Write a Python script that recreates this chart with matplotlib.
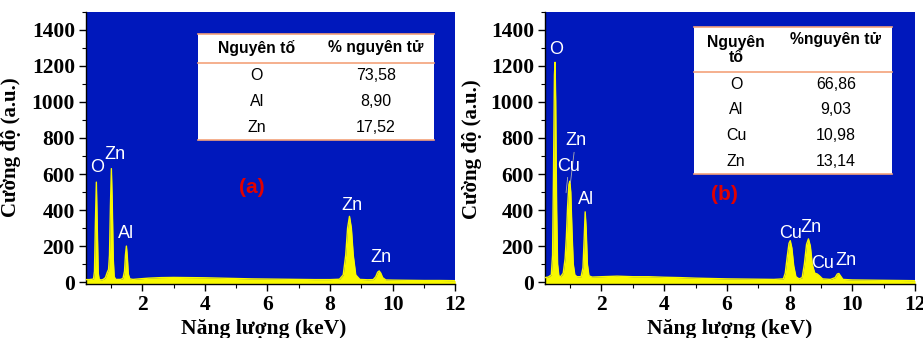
import matplotlib
matplotlib.use("Agg")
import matplotlib.pyplot as plt
from matplotlib.ticker import MultipleLocator
from matplotlib.patches import Rectangle

# ---------------- data ----------------
energy_a = [0.20, 0.30, 0.40, 0.44, 0.47, 0.50, 0.53, 0.56, 0.59, 0.62, 0.68, 0.75, 0.82, 0.88,
            0.92, 0.95, 0.98, 1.01, 1.04, 1.07, 1.10, 1.15, 1.22, 1.30, 1.38, 1.43, 1.46, 1.49,
            1.52, 1.55, 1.60, 1.70, 1.90, 2.20, 2.60, 3.00, 3.50, 4.00, 4.50, 5.00, 5.50, 6.00,
            6.50, 7.00, 7.50, 8.00, 8.30, 8.42, 8.50, 8.56, 8.62, 8.68, 8.74, 8.82, 8.95, 9.20,
            9.38, 9.46, 9.52, 9.57, 9.62, 9.68, 9.78, 10.0, 10.5, 11.0, 11.5, 12.0]
counts_a = [14, 14, 16, 18, 60, 330, 555, 300, 50, 15, 12, 15, 25, 55,
            70, 150, 420, 630, 420, 130, 30, 15, 15, 15, 20, 60, 150, 200,
            140, 45, 18, 15, 18, 22, 25, 26, 25, 24, 22, 20, 18, 17,
            16, 15, 14, 14, 16, 40, 150, 300, 365, 300, 150, 40, 15, 13,
            14, 30, 55, 62, 50, 25, 12, 11, 10, 9, 9, 8]

energy_b = [0.20, 0.30, 0.40, 0.44, 0.47, 0.50, 0.52, 0.54, 0.57, 0.60, 0.64, 0.70, 0.78, 0.84,
            0.88, 0.92, 0.96, 0.99, 1.02, 1.06, 1.10, 1.15, 1.22, 1.35, 1.41, 1.45, 1.48, 1.51,
            1.55, 1.60, 1.70, 2.00, 2.50, 3.00, 3.50, 4.00, 4.50, 5.00, 5.50, 6.00, 6.50, 7.00,
            7.50, 7.80, 7.86, 7.93, 7.98, 8.02, 8.07, 8.13, 8.20, 8.30, 8.40, 8.47, 8.54, 8.60,
            8.66, 8.72, 8.80, 8.88, 8.95, 9.05, 9.30, 9.45, 9.52, 9.57, 9.62, 9.70, 10.0, 10.5,
            11.0, 11.5, 12.0]
counts_b = [25, 28, 40, 150, 600, 1150, 1220, 1000, 400, 100, 35, 30, 50, 130,
            250, 420, 540, 560, 500, 280, 100, 40, 30, 30, 80, 250, 390, 300,
            100, 35, 28, 30, 33, 30, 30, 27, 25, 22, 20, 18, 17, 16,
            15, 18, 50, 150, 215, 230, 190, 90, 30, 18, 25, 100, 210, 240,
            200, 100, 50, 45, 35, 18, 15, 25, 45, 48, 35, 15, 12, 11,
            10, 9, 8]

# peak labels: text, label energy, label height, (leader target energy, height) or None
labels_a = [("O", 0.57, 590, None), ("Zn", 1.14, 660, None), ("Al", 1.49, 225, None),
            ("Zn", 8.70, 378, None), ("Zn", 9.62, 92, None)]
labels_b = [("O", 0.55, 1245, None), ("Zn", 1.17, 736, (1.01, 551)), ("Cu", 0.96, 597, (0.87, 496)),
            ("Al", 1.52, 409, None), ("Cu", 8.02, 225, None), ("Zn", 8.67, 257, None),
            ("Cu", 9.04, 56, None), ("Zn", 9.80, 75, None)]

table_a_header = ["Nguyên tố", "% nguyên tử"]
table_a_elements = ["O", "Al", "Zn"]
table_a_values = ["73,58", "8,90", "17,52"]

table_b_header = ["Nguyên\ntố", "%nguyên tử"]
table_b_elements = ["O", "Al", "Cu", "Zn"]
table_b_values = ["66,86", "9,03", "10,98", "13,14"]

# ---------------- style ----------------
BLUE = "#0018BC"
YELLOW = "#F8F800"
LINE = "#F4A27A"
SERIF = "Liberation Serif"
SANS = "Liberation Sans"

fig = plt.figure(figsize=(9.23, 3.38), dpi=100)
ax_a = fig.add_axes([0.0932, 0.160, 0.400, 0.805])
ax_b = fig.add_axes([0.5905, 0.160, 0.4009, 0.805])


def style_axes(ax):
    ax.set_facecolor(BLUE)
    ax.set_xlim(0.2, 12)
    ax.set_ylim(-10, 1500)
    ax.xaxis.set_major_locator(MultipleLocator(2))
    ax.xaxis.set_minor_locator(MultipleLocator(1))
    ax.yaxis.set_major_locator(MultipleLocator(200))
    ax.yaxis.set_minor_locator(MultipleLocator(100))
    for s in ("top", "right"):
        ax.spines[s].set_visible(False)
    for s in ("left", "bottom"):
        ax.spines[s].set_linewidth(1.0)
    ax.tick_params(which="major", direction="out", length=5, width=1, pad=3)
    ax.tick_params(which="minor", direction="out", length=3, width=0.8)
    for lab in ax.get_xticklabels() + ax.get_yticklabels():
        lab.set_fontfamily(SERIF)
        lab.set_fontweight("bold")
        lab.set_fontsize(15.5)
    ax.set_xlabel("Năng lượng (keV)", fontfamily=SERIF, fontweight="bold", fontsize=15.5)
    ax.set_ylabel("Cường độ (a.u.)", fontfamily=SERIF, fontweight="bold", fontsize=15)


def draw_spectrum(ax, e, c, labels):
    ax.fill_between(e, c, -10, color=YELLOW, lw=0, zorder=2)
    ax.plot(e, c, color=YELLOW, lw=1.0, zorder=3)
    for txt, x, y, tgt in labels:
        if tgt is None:
            ax.text(x, y, txt, color="white", fontfamily=SANS, fontsize=13,
                    ha="center", va="bottom", zorder=5)
        else:
            ax.annotate(txt, xy=tgt, xytext=(x, y), color="white", fontfamily=SANS,
                        fontsize=13, ha="center", va="bottom", zorder=5,
                        arrowprops=dict(arrowstyle="-", color="#B0B0B0", lw=0.6,
                                        shrinkA=0, shrinkB=0))


def draw_table(ax, box, hline_y, header, header_x, header_y, elems, vals, col_x, rows_y):
    x0, y0, x1, y1 = box
    ax.add_patch(Rectangle((x0, y0), x1 - x0, y1 - y0, transform=ax.transAxes,
                           facecolor="white", edgecolor="none", zorder=6))
    for yy in (y0, y1, hline_y):
        ax.plot([x0, x1], [yy, yy], transform=ax.transAxes, color=LINE, lw=1.2, zorder=7)
    for (txt, hx, hy) in zip(header, header_x, header_y):
        ax.text(hx, hy, txt, transform=ax.transAxes, ha="center", va="center",
                fontfamily=SANS, fontweight="bold", fontsize=11.3, zorder=8, linespacing=0.95)
    for el, v, ry in zip(elems, vals, rows_y):
        ax.text(col_x[0], ry, el, transform=ax.transAxes, ha="center", va="center",
                fontfamily=SANS, fontsize=11.5, zorder=8)
        ax.text(col_x[1], ry, v, transform=ax.transAxes, ha="center", va="center",
                fontfamily=SANS, fontsize=11.5, zorder=8)


style_axes(ax_a)
style_axes(ax_b)
draw_spectrum(ax_a, energy_a, counts_a, labels_a)
draw_spectrum(ax_b, energy_b, counts_b, labels_b)

draw_table(ax_a, (0.3035, 0.529, 0.943, 0.919), 0.8125, table_a_header,
           [0.4626, 0.785], [0.868, 0.868], table_a_elements, table_a_values,
           [0.4626, 0.785], [0.765, 0.670, 0.576])
draw_table(ax_b, (0.4027, 0.404, 0.938, 0.945), 0.779, table_b_header,
           [0.516, 0.786], [0.860, 0.897], table_b_elements, table_b_values,
           [0.516, 0.786], [0.734, 0.640, 0.544, 0.449])

ax_a.text(0.449, 0.354, "(a)", transform=ax_a.transAxes, color="#E00000", fontfamily=SANS,
          fontweight="bold", fontsize=15, ha="center", va="center")
ax_b.text(0.486, 0.330, "(b)", transform=ax_b.transAxes, color="#E00000", fontfamily=SANS,
          fontweight="bold", fontsize=15, ha="center", va="center")

ax_a.xaxis.set_label_coords(0.482, -0.130)
ax_b.xaxis.set_label_coords(0.50, -0.130)
ax_a.yaxis.set_label_coords(-0.176, 0.504)
ax_b.yaxis.set_label_coords(-0.171, 0.496)

fig.savefig("out.png", dpi=100)
